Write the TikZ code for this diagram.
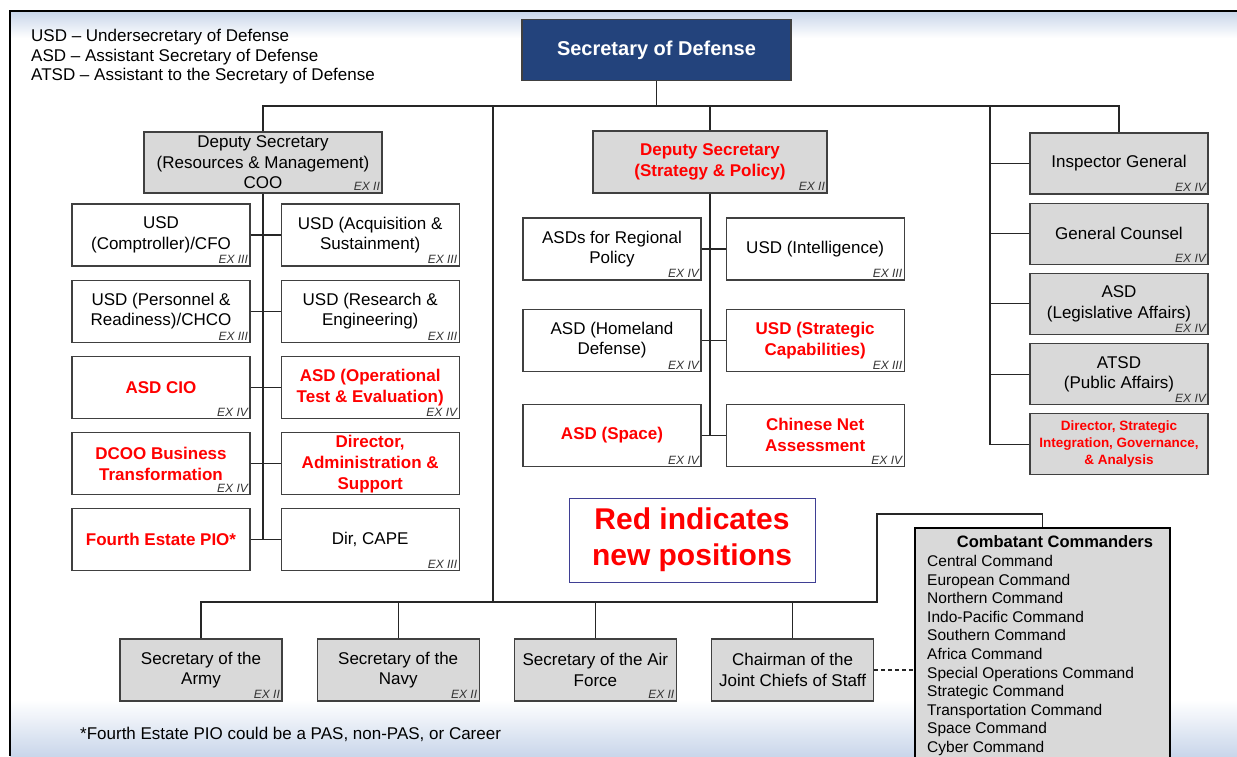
\documentclass[tikz,border=0pt]{standalone}
\usepackage{fontspec}
\setmainfont{Liberation Sans}
\usetikzlibrary{positioning,calc}
\definecolor{sdblue}{HTML}{23437C}
\definecolor{boxgray}{HTML}{D9D9D9}
\definecolor{boxline}{HTML}{404040}
\definecolor{newred}{HTML}{FF0000}
\definecolor{exgray}{HTML}{333333}
\definecolor{bandblue}{HTML}{C9D6EA}
\definecolor{noteline}{HTML}{3F3F94}
\tikzset{
    box/.style={rectangle, draw=boxline, line width=1.2pt, fill=white, minimum width=178pt, minimum height=62pt, inner sep=1pt, align=center, font=\fontsize{17}{20.5}\selectfont},
    graybox/.style={box, fill=boxgray},
    newpos/.style={text=newred, font=\bfseries\fontsize{17}{21}\selectfont},
    exlab/.style={anchor=south east, inner sep=2.5pt, text=exgray, font=\itshape\fontsize{12}{12}\selectfont},
    conn/.style={draw=black!85, line width=1.1pt}
}
\newcommand{\exmark}[2]{\node[exlab] (#1-ex) at (#1.south east) {EX #2};}

\begin{document}
\begin{tikzpicture}[x=1pt, y=-1pt]
    \clip (0,0) rectangle (1237,756);
    % page frame
    \shade[top color=bandblue, bottom color=white] (10,12) rectangle (1237,38);
    \shade[top color=white, bottom color=bandblue] (10,700) rectangle (1237,756);
    \draw[line width=2.6pt] (1237,11) -- (10,11) -- (10,756);

    \node[anchor=north west, align=left, inner sep=0pt, font=\fontsize{17}{19.5}\selectfont] (legend) at (31,29) {USD – Undersecretary of Defense\\ASD – Assistant Secretary of Defense\\ATSD – Assistant to the Secretary of Defense};

    \node[box, fill=sdblue, text=white, font=\bfseries\fontsize{20}{24}\selectfont, minimum width=269pt, minimum height=61pt] (secdef) at (656.5,50) {Secretary of Defense};

    % deputies
    \node[graybox, minimum width=238pt, minimum height=61pt] (dsrm) at (263,162.5) {Deputy Secretary\\(Resources \& Management)\\COO};
    \node[graybox, newpos, minimum width=234pt] (dssp) at (710,162) {Deputy Secretary\\(Strategy \& Policy)};

    % resources & management
    \node[box] (cfo) at (161,235) {USD\\(Comptroller)/CFO};
    \node[box, right=30pt of cfo] (acq) {USD (Acquisition \&\\Sustainment)};
    \node[box, below=13pt of cfo] (pr) {USD (Personnel \&\\Readiness)/CHCO};
    \node[box, right=30pt of pr] (re) {USD (Research \&\\Engineering)};
    \node[box, newpos, below=13pt of pr] (cio) {ASD CIO};
    \node[box, newpos, right=30pt of cio] (ote) {ASD (Operational\\Test \& Evaluation)};
    \node[box, newpos, below=13pt of cio] (dcoo) {DCOO Business\\Transformation};
    \node[box, newpos, right=30pt of dcoo] (das) {Director,\\Administration \&\\Support};
    \node[box, newpos, below=13pt of dcoo] (pio) {Fourth Estate PIO*};
    \node[box, right=30pt of pio] (cape) {Dir, CAPE};

    % strategy & policy
    \node[box] (regional) at (612,249) {ASDs for Regional\\Policy};
    \node[box, right=24pt of regional] (intel) {USD (Intelligence)};
    \node[box, below=28pt of regional] (homeland) {ASD (Homeland\\Defense)};
    \node[box, newpos, right=24pt of homeland] (stratcap) {USD (Strategic\\Capabilities)};
    \node[box, newpos, below=32pt of homeland] (space) {ASD (Space)};
    \node[box, newpos, right=24pt of space] (chinese) {Chinese Net\\Assessment};

    % staff
    \node[graybox, minimum height=61pt] (ig) at (1119,163.5) {Inspector General};
    \node[graybox, minimum height=61pt, below=8pt of ig] (gc) {General Counsel};
    \node[graybox, minimum height=61pt, below=8pt of gc] (asdla) {ASD\\(Legislative Affairs)};
    \node[graybox, minimum height=61pt, below=8pt of asdla] (atsd) {ATSD\\(Public Affairs)};
    \node[graybox, newpos, minimum height=61pt, below=8pt of atsd, font=\bfseries\fontsize{13.5}{17}\selectfont] (dsiga) {Director, Strategic\\Integration, Governance,\\\& Analysis};

    \node[box, draw=noteline, line width=0.8pt, minimum width=246pt, minimum height=84pt, text=newred, font=\bfseries\fontsize{30}{36}\selectfont] (note) at (692,540) {Red indicates\\new positions};

    % military departments
    \node[graybox, minimum width=162pt] (army) at (201,670) {Secretary of the\\Army};
    \node[graybox, minimum width=162pt, right=34pt of army] (navy) {Secretary of the\\Navy};
    \node[graybox, minimum width=162pt, right=34pt of navy] (airforce) {Secretary of the Air\\Force};
    \node[graybox, minimum width=162pt, right=34pt of airforce] (chair) {Chairman of the\\Joint Chiefs of Staff};

    \node[graybox, draw=black, minimum width=255pt, minimum height=242pt] (cc) at (1042.5,649) {};
    \node[inner sep=0pt, font=\bfseries\fontsize{16.5}{20}\selectfont] (cctitle) at (1055,542) {Combatant Commanders};
    \node[anchor=north west, align=left, inner sep=0pt, font=\fontsize{15.5}{18.6}\selectfont] (cclist) at (927,555) {Central Command\\European Command\\Northern Command\\Indo-Pacific Command\\Southern Command\\Africa Command\\Special Operations Command\\Strategic Command\\Transportation Command\\Space Command\\Cyber Command};

    \node[anchor=west, inner sep=0pt, font=\fontsize{17}{20}\selectfont] (foot) at (80,734) {*Fourth Estate PIO could be a PAS, non-PAS, or Career};

    \foreach \n/\e in {dsrm/II,dssp/II,cfo/III,acq/III,pr/III,re/III,cio/IV,ote/IV,dcoo/IV,cape/III,regional/IV,intel/III,homeland/IV,stratcap/III,space/IV,chinese/IV,ig/IV,gc/IV,asdla/IV,atsd/IV,army/II,navy/II,airforce/II}
        \exmark{\n}{\e};

    % connectors
    \coordinate (bus) at (656.5,106);
    \coordinate (midtop) at (493,106);
    \coordinate (midbot) at (493,602);
    \coordinate (rtop) at (990,106);
    \coordinate (ccjog) at (877,514);
    \draw[conn] (secdef.south) -- (bus);
    \draw[conn] (dsrm.north) |- (bus) -| (ig.north);
    \draw[conn] (dssp.north) -- (dssp.north |- bus);
    \draw[conn] (midtop) -- (midbot);
    \draw[conn] (rtop) |- (dsiga.west);
    \foreach \n in {ig,gc,asdla,atsd}
        \draw[conn] (\n.west) -- (\n.west -| rtop);
    \draw[conn] (dsrm.south) -- (dsrm.south |- pio.east);
    \foreach \a/\b in {cfo/acq,pr/re,cio/ote,dcoo/das,pio/cape}
        \draw[conn] (\a) -- (\b);
    \draw[conn] (dssp.south) -- (dssp.south |- space.east);
    \foreach \a/\b in {regional/intel,homeland/stratcap,space/chinese}
        \draw[conn] (\a) -- (\b);
    \draw[conn] (army.north) |- (midbot) -- (ccjog |- midbot) -- (ccjog) -| (cc.north);
    \foreach \n in {navy,airforce,chair}
        \draw[conn] (\n.north) -- (\n.north |- midbot);
    \draw[conn, dash pattern=on 4pt off 3pt] (chair.east) -- (chair.east -| cc.west);
\end{tikzpicture}
\end{document}
